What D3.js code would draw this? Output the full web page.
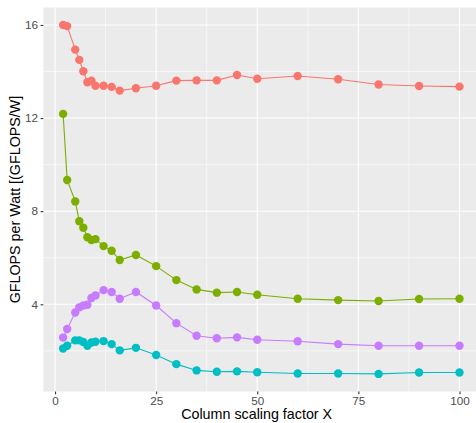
<!DOCTYPE html>
<html>
<head>
<meta charset="utf-8">
<script src="https://cdn.jsdelivr.net/npm/d3@7"></script>
<style>
  body { margin: 0; background: #fff; }
  text { font-family: "Liberation Sans", Arial, sans-serif; }
</style>
</head>
<body>
<div id="chart"></div>
<script>
// x positions shared by all series
const xValues = [2, 3, 5, 6, 7, 8, 9, 10, 12, 14, 16, 20, 25, 30, 35, 40, 45, 50, 60, 70, 80, 90, 100];

// GFLOPS per Watt, one array per series
const redSeries    = [16.0, 15.95, 14.94, 14.50, 14.01, 13.54, 13.61, 13.39, 13.39, 13.34, 13.18, 13.28, 13.39, 13.61, 13.62, 13.62, 13.85, 13.69, 13.81, 13.67, 13.44, 13.38, 13.35];
const greenSeries  = [12.18, 9.34, 8.42, 7.57, 7.29, 6.88, 6.76, 6.80, 6.50, 6.30, 5.90, 6.12, 5.64, 5.04, 4.64, 4.50, 4.53, 4.41, 4.24, 4.18, 4.14, 4.23, 4.24];
const cyanSeries   = [2.10, 2.22, 2.45, 2.45, 2.38, 2.22, 2.36, 2.39, 2.42, 2.29, 2.02, 2.13, 1.82, 1.43, 1.16, 1.10, 1.12, 1.08, 1.03, 1.03, 1.01, 1.07, 1.07];
const purpleSeries = [2.57, 2.94, 3.65, 3.87, 3.95, 3.98, 4.27, 4.38, 4.61, 4.53, 4.24, 4.53, 3.95, 3.19, 2.65, 2.54, 2.58, 2.48, 2.41, 2.29, 2.22, 2.22, 2.22];

const xTicks = [0, 25, 50, 75, 100];
const yTicks = [4, 8, 12, 16];
const xMinor = [12.5, 37.5, 62.5, 87.5];
const yMinor = [2, 6, 10, 14];

const series = [
    { name: "red", values: redSeries, color: "#F8766D" },
    { name: "green", values: greenSeries, color: "#7CAE00" },
    { name: "cyan", values: cyanSeries, color: "#00BFC4" },
    { name: "purple", values: purpleSeries, color: "#C77CFF" }
];

const width = 476;
const height = 423;
const panel = { left: 43.3, top: 7.5, right: 479.3, bottom: 391.6 };

const x = d3.scaleLinear()
    .domain([-2.9, 104.9])
    .range([panel.left, panel.right]);

const y = d3.scaleLinear()
    .domain([0.25, 16.75])
    .range([panel.bottom, panel.top]);

const svg = d3.select("#chart").append("svg")
    .attr("width", width)
    .attr("height", height);

// panel background
svg.append("rect")
    .attr("x", panel.left)
    .attr("y", panel.top)
    .attr("width", panel.right - panel.left)
    .attr("height", panel.bottom - panel.top)
    .attr("fill", "#EBEBEB");

// minor grid
svg.selectAll(".xminor").data(xMinor).enter().append("line")
    .attr("x1", d => x(d)).attr("x2", d => x(d))
    .attr("y1", panel.top).attr("y2", panel.bottom)
    .attr("stroke", "#fff").attr("stroke-width", 0.55);
svg.selectAll(".yminor").data(yMinor).enter().append("line")
    .attr("x1", panel.left).attr("x2", panel.right)
    .attr("y1", d => y(d)).attr("y2", d => y(d))
    .attr("stroke", "#fff").attr("stroke-width", 0.55);

// major grid
svg.selectAll(".xmajor").data(xTicks).enter().append("line")
    .attr("x1", d => x(d)).attr("x2", d => x(d))
    .attr("y1", panel.top).attr("y2", panel.bottom)
    .attr("stroke", "#fff").attr("stroke-width", 1.1);
svg.selectAll(".ymajor").data(yTicks).enter().append("line")
    .attr("x1", panel.left).attr("x2", panel.right)
    .attr("y1", d => y(d)).attr("y2", d => y(d))
    .attr("stroke", "#fff").attr("stroke-width", 1.1);

// axes
const xAxis = svg.append("g")
    .attr("transform", `translate(0,${panel.bottom})`)
    .call(d3.axisBottom(x).tickValues(xTicks).tickSize(2.7).tickPadding(2.5));
const yAxis = svg.append("g")
    .attr("transform", `translate(${panel.left},0)`)
    .call(d3.axisLeft(y).tickValues(yTicks).tickSize(2.7).tickPadding(2.5));

[xAxis, yAxis].forEach(g => {
    g.select(".domain").remove();
    g.selectAll(".tick line").attr("stroke", "#333").attr("stroke-width", 1.1);
    g.selectAll(".tick text")
        .attr("fill", "#4D4D4D")
        .style("font-size", "11.7px")
        .style("font-family", "'Liberation Sans', Arial, sans-serif");
});

// lines and points
const line = d3.line()
    .x((d, i) => x(xValues[i]))
    .y(d => y(d));

series.forEach(s => {
    svg.append("path")
        .datum(s.values)
        .attr("fill", "none")
        .attr("stroke", s.color)
        .attr("stroke-width", 1.1)
        .attr("d", line);

    svg.selectAll(".pt-" + s.name)
        .data(s.values)
        .enter().append("circle")
        .attr("class", "pt-" + s.name)
        .attr("cx", (d, i) => x(xValues[i]))
        .attr("cy", d => y(d))
        .attr("r", 4.2)
        .attr("fill", s.color);
});

// axis titles
svg.append("text")
    .attr("x", (panel.left + 470) / 2)
    .attr("y", 419)
    .attr("text-anchor", "middle")
    .style("font-size", "14.3px")
    .attr("fill", "#000")
    .text("Column scaling factor X");

svg.append("text")
    .attr("transform", `translate(20,${(panel.top + panel.bottom) / 2}) rotate(-90)`)
    .attr("text-anchor", "middle")
    .style("font-size", "14.3px")
    .attr("fill", "#000")
    .text("GFLOPS per Watt [(GFLOPS/W]");
</script>
</body>
</html>
